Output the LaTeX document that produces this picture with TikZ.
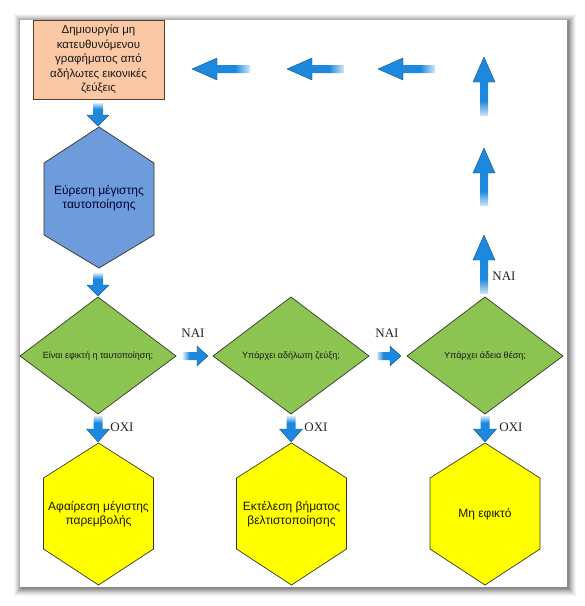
\documentclass[tikz,border=0pt]{standalone}
\usepackage{fontspec}
\setmainfont{Liberation Sans}
\newfontfamily\serifgr{Liberation Serif}
\usetikzlibrary{calc}

\definecolor{arrblue}{RGB}{28,136,222}
\definecolor{arrtail}{RGB}{214,232,248}
\definecolor{salmon}{RGB}{250,200,164}
\definecolor{boxbrd}{RGB}{90,60,45}
\definecolor{hexblue}{RGB}{110,155,220}
\definecolor{dgreen}{RGB}{140,196,82}
\definecolor{hexyel}{RGB}{255,255,0}
\definecolor{brd}{RGB}{55,55,40}
\pgfdeclarehorizontalshading{arrsh}{100bp}{color(0bp)=(arrtail); color(25bp)=(arrtail); color(38bp)=(arrblue); color(100bp)=(arrblue)}

% tail, tip, shaft half width, head half width, head length, shading angle
\newcommand\blockarrow[6]{%
  \shade[shading=arrsh, shading angle=#6]
    ($(#1)!#3!90:(#2)$) -- ($($(#2)!#5!(#1)$)!#3!90:(#2)$) --
    ($($(#2)!#5!(#1)$)!#4!90:(#2)$) -- (#2) --
    ($($(#2)!#5!(#1)$)!#4!-90:(#2)$) -- ($($(#2)!#5!(#1)$)!#3!-90:(#2)$) --
    ($(#1)!#3!-90:(#2)$) -- cycle;
  \draw[arrblue!55!black, line width=0.35pt, line join=round]
    ($($(#2)!#5!(#1)$)!#3!90:(#2)$) -- ($($(#2)!#5!(#1)$)!#4!90:(#2)$) -- (#2) --
    ($($(#2)!#5!(#1)$)!#4!-90:(#2)$) -- ($($(#2)!#5!(#1)$)!#3!-90:(#2)$);
}

\tikzset{
  txt/.style={font=\fontsize{12}{14}\selectfont, align=center, text=black!90, inner sep=0pt},
  btxt/.style={font=\fontsize{11.5}{14.5}\selectfont, align=center, text=black!90, inner sep=0pt},
  dtxt/.style={font=\fontsize{9}{11}\selectfont, align=center, text=black!90, inner sep=0pt},
  lbl/.style={font=\serifgr\fontsize{13}{15}\selectfont, text=black!85, inner sep=0pt},
  shapebrd/.style={draw=brd, line width=0.7pt, line join=miter},
}

\begin{document}
\begin{tikzpicture}[x=1pt,y=-1pt]
\useasboundingbox (0,0) rectangle (585,606);
\fill[white] (0,0) rectangle (585,606);

% panel shadow
\foreach \i/\o in {8/0.035,7/0.045,6/0.055,5/0.065,4/0.075,3/0.085,2/0.1,1/0.12}
  \fill[black,opacity=\o] (20-\i+2,20-\i+2) rectangle (567+\i+1,587+\i+1);
\fill[white] (20,20) rectangle (567,587);

% ---------- top box ----------
\node[btxt, draw=boxbrd, line width=0.8pt, fill=salmon, minimum width=131pt, minimum height=79pt]
  (start) at (98.5,59.5) {Δημιουργία μη\\κατευθυνόμενου\\γραφήματος από\\αδήλωτες εικονικές\\ζεύξεις};

% ---------- blue hexagon ----------
\coordinate (h0c) at (99,198);
\path[shapebrd, fill=hexblue] ($(h0c)+(0,-71)$) -- ($(h0c)+(55,-35)$) -- ($(h0c)+(55,37)$) --
  ($(h0c)+(0,70)$) -- ($(h0c)+(-55,37)$) -- ($(h0c)+(-55,-35)$) -- cycle;
\node[txt, text=black!80!blue] (maxid) at (h0c) {Εύρεση μέγιστης\\ταυτοποίησης};

% ---------- diamonds ----------
\foreach \n/\x in {d1c/98, d2c/291, d3c/485}{
  \coordinate (\n) at (\x,356);
  \path[shapebrd, fill=dgreen] ($(\n)+(0,-59)$) -- ($(\n)+(78,0)$) -- ($(\n)+(0,58)$) -- ($(\n)+(-78,0)$) -- cycle;
}
\node[dtxt] (q1) at (d1c) {Είναι εφικτή η ταυτοποίηση;};
\node[dtxt] (q2) at (d2c) {Υπάρχει αδήλωτη ζεύξη;};
\node[dtxt] (q3) at (d3c) {Υπάρχει άδεια θέση;};

% ---------- yellow hexagons ----------
\foreach \n/\x in {y1c/98.5, y2c/291.5, y3c/485}{
  \coordinate (\n) at (\x,514);
  \path[shapebrd, fill=hexyel] ($(\n)+(0,-71)$) -- ($(\n)+(55,-36)$) -- ($(\n)+(55,35)$) --
    ($(\n)+(0,71)$) -- ($(\n)+(-55,35)$) -- ($(\n)+(-55,-36)$) -- cycle;
}
\node[txt] (r1) at (y1c) {Αφαίρεση μέγιστης\\παρεμβολής};
\node[txt] (r2) at (y2c) {Εκτέλεση βήματος\\βελτιστοποίησης};
\node[txt] (r3) at (y3c) {Μη εφικτό};

% ---------- arrows ----------
\coordinate (a1t) at (98,103);  \coordinate (a1p) at (98,126);
\coordinate (a2t) at (98,273);  \coordinate (a2p) at (98,296);
\blockarrow{a1t}{a1p}{5pt}{11pt}{11pt}{-90}
\blockarrow{a2t}{a2p}{5pt}{11pt}{11pt}{-90}

% yes arrows between diamonds
\coordinate (r1t) at (183,356); \coordinate (r1p) at (208,356);
\coordinate (r2t) at (377,356); \coordinate (r2p) at (401,356);
\blockarrow{r1t}{r1p}{4pt}{10pt}{11pt}{0}
\blockarrow{r2t}{r2p}{4pt}{10pt}{11pt}{0}
\node[lbl] (yes1) at (193,333) {ΝΑΙ};
\node[lbl] (yes2) at (387,333) {ΝΑΙ};

% no arrows
\foreach \x/\k in {98/n1, 291/n2, 485/n3}{
  \coordinate (\k t) at (\x,416); \coordinate (\k p) at (\x,442);
  \blockarrow{\k t}{\k p}{4.5pt}{11.5pt}{13pt}{-90}
}
\node[lbl] (no1) at (122,427) {ΟΧΙ};
\node[lbl] (no2) at (316,427) {ΟΧΙ};
\node[lbl] (no3) at (511,427) {ΟΧΙ};

% up arrows on right
\coordinate (u1t) at (484,294); \coordinate (u1p) at (484,235);
\coordinate (u2t) at (484,206); \coordinate (u2p) at (484,148);
\coordinate (u3t) at (484,116); \coordinate (u3p) at (484,57);
\blockarrow{u1t}{u1p}{4pt}{11pt}{25pt}{90}
\blockarrow{u2t}{u2p}{4pt}{11pt}{25pt}{90}
\blockarrow{u3t}{u3p}{4pt}{11pt}{25pt}{90}
\node[lbl] (yes3) at (504,276) {ΝΑΙ};

% left arrows on top
\coordinate (l1t) at (435,69); \coordinate (l1p) at (378,69);
\coordinate (l2t) at (344,69); \coordinate (l2p) at (287,69);
\coordinate (l3t) at (250,69); \coordinate (l3p) at (192,69);
\blockarrow{l1t}{l1p}{4pt}{11pt}{25pt}{180}
\blockarrow{l2t}{l2p}{4pt}{11pt}{25pt}{180}
\blockarrow{l3t}{l3p}{4pt}{11pt}{25pt}{180}
\end{tikzpicture}
\end{document}
